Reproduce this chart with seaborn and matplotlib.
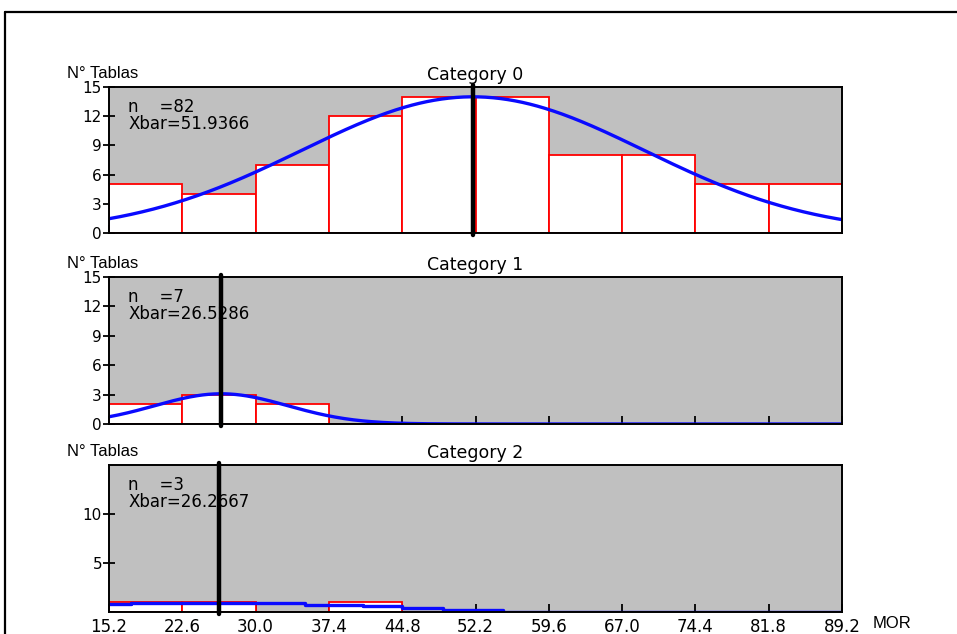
import numpy as np
import pandas as pd
import matplotlib
matplotlib.use("Agg")
import matplotlib.pyplot as plt
from matplotlib.lines import Line2D
import seaborn as sns

# ---------------- data ----------------
bin_edges = [15.2, 22.6, 30.0, 37.4, 44.8, 52.2, 59.6, 67.0, 74.4, 81.8, 89.2]
tick_labels = ["15.2", "22.6", "30.0", "37.4", "44.8", "52.2", "59.6", "67.0", "74.4", "81.8", "89.2"]
categories = ["Category 0", "Category 1", "Category 2"]
counts_0 = [5, 4, 7, 12, 14, 14, 8, 8, 5, 5]
counts_1 = [2, 3, 2, 0, 0, 0, 0, 0, 0, 0]
counts_2 = [1, 1, 0, 1, 0, 0, 0, 0, 0, 0]
n_values = [82, 7, 3]
xbar_values = [51.9366, 26.5286, 26.2667]
sd_values = [17.3, 6.7]          # estimated spread of fitted normal curves (cat 0, 1)
curve_2_x = [15.2, 17.4, 35.0, 40.8, 44.8, 48.9, 55.0, 89.2]
curve_2_y = [0.85, 0.95, 0.72, 0.58, 0.38, 0.20, 0.05, 0.05]
y_ticks = [[0, 3, 6, 9, 12, 15], [0, 3, 6, 9, 12, 15], [5, 10]]

# ---------------- style ----------------
sns.set_style("ticks")
plt.rcParams["font.family"] = ["DejaVu Sans"]
for key in ["text.color", "axes.labelcolor", "xtick.color", "ytick.color", "axes.edgecolor"]:
    plt.rcParams[key] = "black"

W, H = 957, 634
fig = plt.figure(figsize=(W / 100, H / 100), dpi=100)

narrow = ["Liberation Sans Narrow", "Liberation Sans", "DejaVu Sans"]

# figure frame (top and left border)
fig.add_artist(Line2D([4.5 / W, 4.5 / W], [0, 1 - 11.5 / H], color="black", lw=1.6,
                      transform=fig.transFigure))
fig.add_artist(Line2D([4.5 / W, 1.0], [1 - 11.5 / H, 1 - 11.5 / H], color="black", lw=1.6,
                      transform=fig.transFigure))

left = 109 / W
width = 733 / W
panels = [(87, 233), (277, 424), (465, 612)]
all_counts = [counts_0, counts_1, counts_2]
centers = [(a + b) / 2 for a, b in zip(bin_edges[:-1], bin_edges[1:])]
binw = bin_edges[1] - bin_edges[0]

for i, (top, bot) in enumerate(panels):
    ax = fig.add_axes([left, 1 - bot / H, width, (bot - top) / H])
    ax.set_facecolor("#c0c0c0")
    df = pd.DataFrame({"x": centers, "w": all_counts[i]})
    sns.histplot(data=df, x="x", weights="w", bins=bin_edges, ax=ax,
                 color="white", edgecolor="#ff0000", linewidth=1.3, alpha=1)

    if i < 2:
        xs = np.linspace(bin_edges[0], bin_edges[-1], 400)
        s = sd_values[i]
        ys = n_values[i] * binw * np.exp(-0.5 * ((xs - xbar_values[i]) / s) ** 2) / (s * np.sqrt(2 * np.pi))
        sns.lineplot(x=xs, y=ys, ax=ax, color="#0a0aff", lw=2.4, zorder=3)
    else:
        ax.plot(curve_2_x, curve_2_y, drawstyle="steps-post", color="#0a0aff", lw=2.4, zorder=3)

    ax.axvline(xbar_values[i], ymin=-0.012, ymax=1.012, color="black", lw=3.2,
               zorder=4, clip_on=False)

    ax.set_xlim(bin_edges[0], bin_edges[-1])
    ax.set_ylim(0, 15)
    ax.set_xlabel("")
    ax.set_ylabel("")
    ax.set_yticks(y_ticks[i])
    ax.set_yticklabels([str(t) for t in y_ticks[i]], fontsize=11)
    ax.set_xticks(bin_edges)
    if i == 2:
        ax.set_xticklabels(tick_labels, fontsize=12)
    else:
        ax.set_xticklabels([])
    ax.tick_params(axis="x", direction="in", length=5.5, width=1.3, color="black",
                   labelcolor="black", pad=4)
    ax.tick_params(axis="y", direction="inout", length=8, width=1.3, color="black",
                   labelcolor="black", pad=1)
    for sp in ax.spines.values():
        sp.set_visible(True)
        sp.set_color("black")
        sp.set_linewidth(1.4)
        sp.set_zorder(5)

    ax.set_title(categories[i], fontsize=12.5, pad=5, color="black")
    hpx = bot - top
    ax.text(0.026, 1 - 25 / hpx, f"n    ={n_values[i]}", transform=ax.transAxes,
            fontsize=12, va="baseline", ha="left", zorder=6, color="black")
    ax.text(0.026, 1 - 42 / hpx, f"Xbar={xbar_values[i]:.4f}", transform=ax.transAxes,
            fontsize=12, va="baseline", ha="left", zorder=6, color="black")
    ax.text((67 - 109) / 733, 1 + 9 / hpx, "N° Tablas", transform=ax.transAxes,
            fontsize=12, family=narrow, va="baseline", ha="left", color="black")
    if i == 2:
        ax.text((873 - 109) / 733, -12 / hpx, "MOR", transform=ax.transAxes,
                fontsize=12, family=narrow, va="center", ha="left", color="black")

fig.savefig("out.png", dpi=100)
